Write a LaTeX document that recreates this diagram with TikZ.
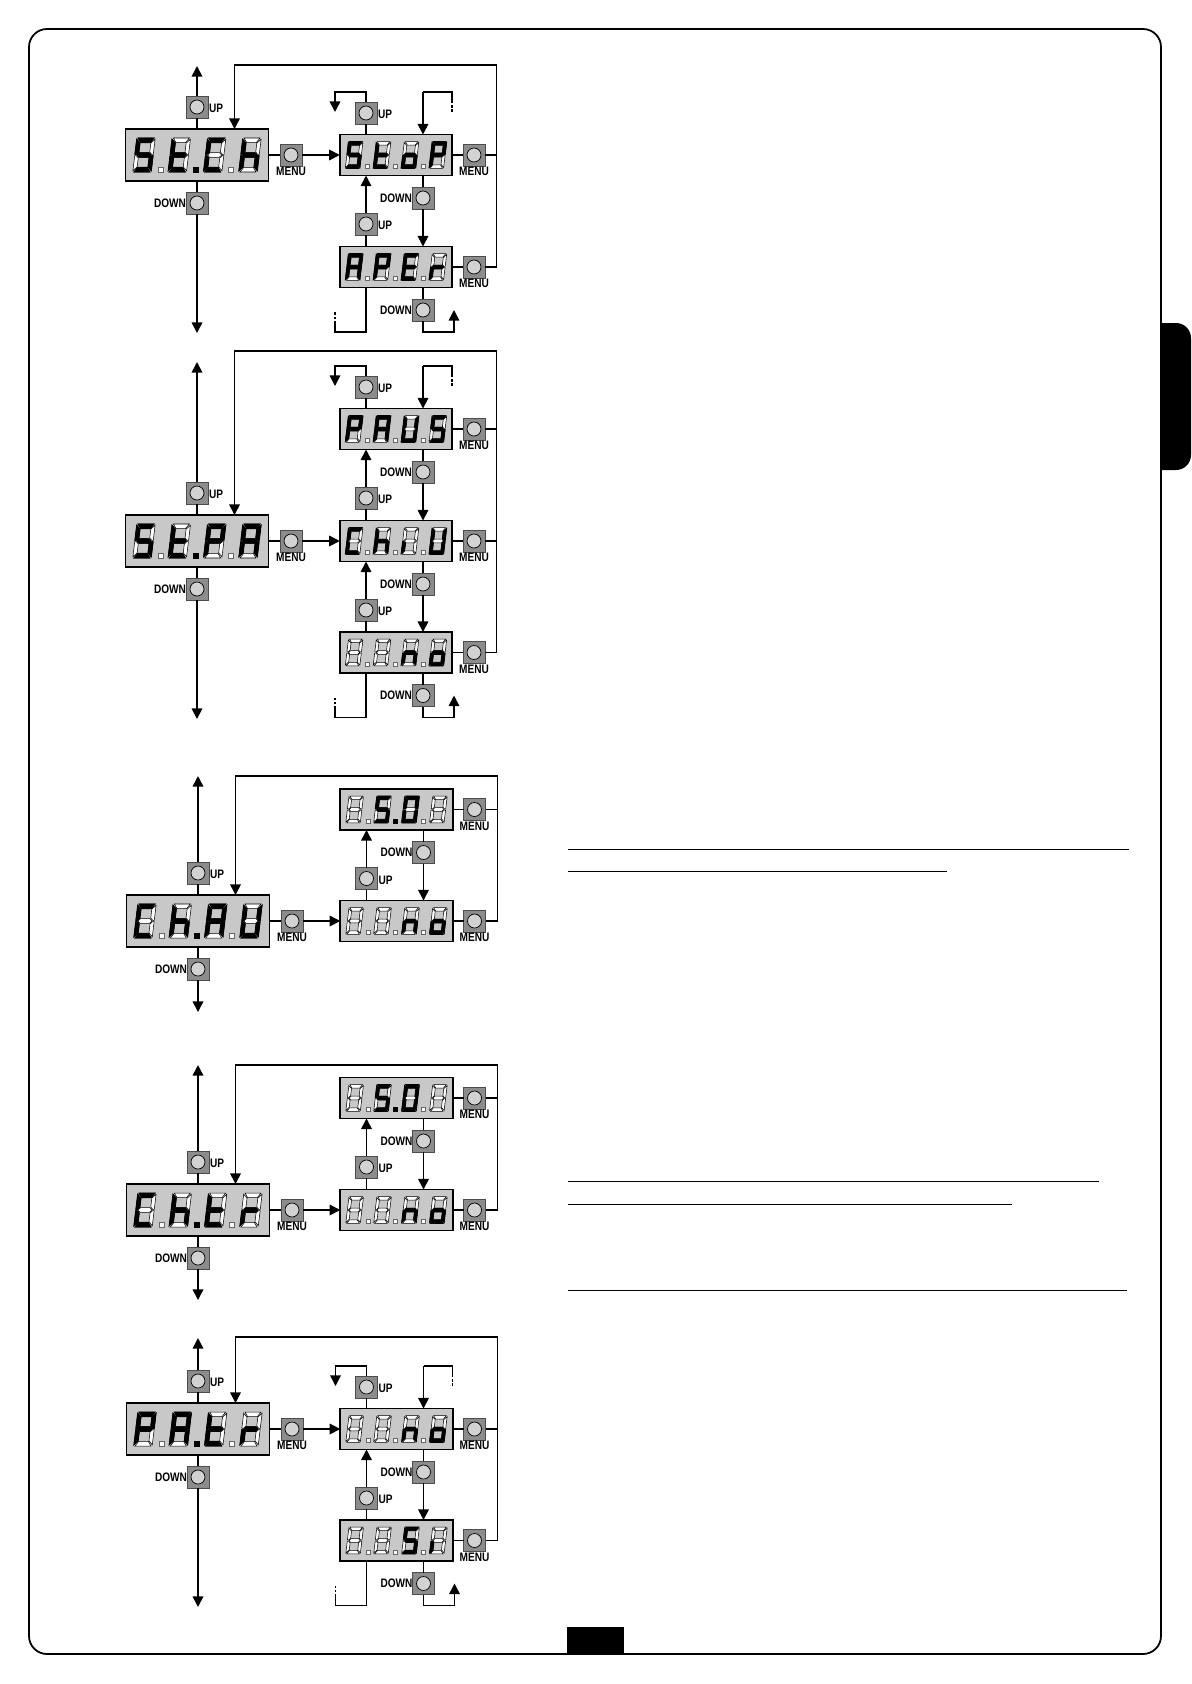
\documentclass[tikz,border=0pt]{standalone}
\usepackage{fontspec}
\usepackage{xcolor}
\usetikzlibrary{arrows.meta, calc}
\newfontfamily\btnfont[FakeStretch=0.82]{Liberation Sans}
\definecolor{dispgray}{HTML}{C8C8C8}
\definecolor{btngray}{HTML}{8C8C8C}
\definecolor{capgray}{HTML}{D2D2D2}
\tikzset{
bigdisp/.style={shape=rectangle, draw, line width=1pt, fill=dispgray, inner sep=0pt, outer sep=0pt, minimum width=2.86cm, minimum height=1.04cm},
smalldisp/.style={bigdisp, minimum width=2.25cm, minimum height=0.82cm},
btn/.style={shape=rectangle, draw=black!70, line width=0.4pt, fill=btngray, inner sep=0pt, outer sep=0pt, minimum size=0.44cm},
btncap/.style={shape=circle, draw=black, line width=0.4pt, fill=capgray, inner sep=0pt, outer sep=0pt, minimum size=0.28cm},
btnlab/.style={inner sep=0pt, outer sep=0pt, font=\btnfont\bfseries\fontsize{7}{8}\selectfont},
uplab/.style={btnlab, xshift=0.02cm, yshift=-0.03cm},
dnlab/.style={btnlab},
menulab/.style={btnlab, yshift=-0.03cm},
conn/.style={line width=0.9pt},
flow/.style={conn, -{Triangle[length=6pt,width=6pt]}},
stubdash/.style={line width=1pt, dash pattern=on 1.4pt off 0.9pt},
ruleline/.style={line width=0.5pt},
segoff/.style={draw=black, line width=0.3pt, fill=white},
segon/.style={draw=black, line width=0.5pt, fill=black},
dotoff/.style={draw=black!60, line width=0.25pt, fill=white},
doton/.style={draw=black, line width=0.25pt, fill=black},
}
% seven segments of one digit
\newcommand{\sega}[1]{\path[#1] (-8,-17) -- (8,-17) -- (4.8,-12.4) -- (-4.8,-12.4) -- cycle;}
\newcommand{\segd}[1]{\path[#1] (-8,17) -- (8,17) -- (4.8,12.4) -- (-4.8,12.4) -- cycle;}
\newcommand{\segg}[1]{\path[#1] (-7,0) -- (-4.8,-2.3) -- (4.8,-2.3) -- (7,0) -- (4.8,2.3) -- (-4.8,2.3) -- cycle;}
\newcommand{\segf}[1]{\path[#1] (-9.2,-15.8) -- (-5.4,-11.8) -- (-5.4,-3) -- (-7.6,-0.7) -- (-9.2,-0.7) -- cycle;}
\newcommand{\segb}[1]{\path[#1] (9.2,-15.8) -- (5.4,-11.8) -- (5.4,-3) -- (7.6,-0.7) -- (9.2,-0.7) -- cycle;}
\newcommand{\sege}[1]{\path[#1] (-9.2,15.8) -- (-5.4,11.8) -- (-5.4,3) -- (-7.6,0.7) -- (-9.2,0.7) -- cycle;}
\newcommand{\segc}[1]{\path[#1] (9.2,15.8) -- (5.4,11.8) -- (5.4,3) -- (7.6,0.7) -- (9.2,0.7) -- cycle;}
\newcommand{\segx}[1]{}
% letters
\newcommand{\ledS}{a,f,g,c,d}
\newcommand{\ledT}{f,e,g,d}
\newcommand{\ledC}{a,f,e,d}
\newcommand{\ledH}{f,e,g,c}
\newcommand{\ledO}{g,c,d,e}
\newcommand{\ledP}{a,b,f,g,e}
\newcommand{\ledA}{a,b,c,e,f,g}
\newcommand{\ledE}{a,f,g,e,d}
\newcommand{\ledR}{e,g}
\newcommand{\ledU}{b,c,d,e,f}
\newcommand{\ledN}{e,g,c}
\newcommand{\ledI}{e}
\newcommand{\ledZ}{a,b,c,d,e,f}
\newcommand{\ledV}{x}
\newcommand{\leddigit}[2]{%
	\begin{scope}[xshift=#1*0.02cm, xslant=0.12]
		\foreach \s in {a,b,c,d,e,f,g} {\csname seg\s\endcsname{segoff}}
		\foreach \s in #2 {\csname seg\s\endcsname{segon}}
	\end{scope}}
% display node name, scale, four letters, style of the middle point
\newcommand{\ledrow}[7]{%
	\begin{scope}[shift={(#1.center)}, scale=#2]
		\leddigit{-53}{#3}
		\leddigit{-17.7}{#4}
		\leddigit{17.7}{#5}
		\leddigit{53}{#6}
		\path[dotoff] (-38.5,12) rectangle (-33.5,17);
		\path[#7] (-4,12) rectangle (1,17);
		\path[dotoff] (31.5,12) rectangle (36.5,17);
	\end{scope}}
% button with its cap
\newcommand{\button}[4]{%
	\node[btn, label={#4}] (#1) at (#2,#3) {};
	\node[btncap] (#1cap) at (#1) {};}
% left display: name, x, y, upper tip, lower tip
\newcommand{\mainblock}[5]{%
	\node[bigdisp] (#1) at (#2,#3) {};
	\button{#1up}{#2}{#3-48}{[uplab]right:UP}
	\button{#1dn}{#2}{#3+48}{[dnlab]left:DOWN}
	\button{#1m}{#2+94}{#3}{[menulab]below:MENU}
	\coordinate (#1tup) at (#2,#4);
	\coordinate (#1tdn) at (#2,#5);
	\draw[conn] (#1) -- (#1up);
	\draw[flow] (#1up) -- (#1tup);
	\draw[conn] (#1) -- (#1dn);
	\draw[flow] (#1dn) -- (#1tdn);
	\draw[conn] (#1) -- (#1m);}
% right display: name, x, y
\newcommand{\setrow}[3]{%
	\node[smalldisp] (#1) at (#2,#3) {};
	\button{#1m}{#2+78}{#3}{[menulab]below:MENU}
	\draw[conn] (#1) -- (#1m);}
% passage between two displays: upper, lower, x, y of upper
\newcommand{\rowlink}[4]{%
	\button{#1dn}{#3+27}{#4+43}{[dnlab]left:DOWN}
	\button{#2up}{#3-30}{#4+69}{[uplab]right:UP}
	\draw[conn] (#1dn |- #1.south) -- (#1dn);
	\draw[flow] (#1dn) -- (#1dn |- #2.north);
	\draw[conn] (#2up |- #2.north) -- (#2up);
	\draw[flow] (#2up) -- (#2up |- #1.south);}
% open ends above a display
\newcommand{\topstubs}[3]{%
	\button{#1up}{#2-30}{#3-42}{[uplab]right:UP}
	\coordinate (#1ua) at (#2-30,#3-63);
	\coordinate (#1ub) at (#2-61,#3-63);
	\coordinate (#1uc) at (#2-61,#3-43);
	\coordinate (#1ra) at (#2+27,#3-63);
	\coordinate (#1rb) at (#2+56,#3-63);
	\coordinate (#1rc) at (#2+56,#3-54);
	\coordinate (#1rd) at (#2+56,#3-43);
	\draw[conn] (#1up |- #1.north) -- (#1up);
	\draw[flow] (#1up) -- (#1ua) -- (#1ub) -- (#1uc);
	\draw[conn] (#1rc) -- (#1rb) -- (#1ra);
	\draw[flow] (#1ra) -- (#1ra |- #1.north);
	\draw[stubdash] (#1rc) -- (#1rd);}
% open ends below a display
\newcommand{\botstubs}[3]{%
	\button{#1dn}{#2+27}{#3+43}{[dnlab]left:DOWN}
	\coordinate (#1da) at (#2+27,#3+65);
	\coordinate (#1db) at (#2+58,#3+65);
	\coordinate (#1dc) at (#2+58,#3+43);
	\coordinate (#1la) at (#2-30,#3+65);
	\coordinate (#1lb) at (#2-61,#3+65);
	\coordinate (#1lc) at (#2-61,#3+56);
	\coordinate (#1ld) at (#2-61,#3+45);
	\draw[conn] (#1dn |- #1.south) -- (#1dn);
	\draw[flow] (#1dn) -- (#1da) -- (#1db) -- (#1dc);
	\draw[conn] (#1la |- #1.south) -- (#1la) -- (#1lb) -- (#1lc);
	\draw[stubdash] (#1lc) -- (#1ld);}
% way back to the left display: name, x, y of line, last row
\newcommand{\closeloop}[4]{%
	\coordinate (#1tr) at (#2+299.5,#3);
	\coordinate (#1tl) at (#2+37.5,#3);
	\draw[flow] (#4m) -| (#1tr) -- (#1tl) -- (#1tl |- #1.north);}

\begin{document}
\begin{tikzpicture}[x=0.02cm, y=-0.02cm]
	\useasboundingbox (0,0) rectangle (1191,1684);

	\draw[line width=1pt, rounded corners=0.36cm] (29,29) rectangle (1161,1654);
	\fill (1161,323) [rounded corners=0.3cm] -- (1191,323) -- (1191,470) [sharp corners] -- (1161,470) -- cycle;
	\fill (567,1627) rectangle (624,1654);

	\draw[ruleline] (568,849.5) -- (1129,849.5);
	\draw[ruleline] (568,871) -- (947,871);
	\draw[ruleline] (568,1181) -- (1099,1181);
	\draw[ruleline] (568,1204) -- (1012,1204);
	\draw[ruleline] (568,1290) -- (1127,1290);

	% first group
	\mainblock{stch}{197}{155}{66}{333}
	\setrow{stop}{396}{155}
	\setrow{aper}{396}{267}
	\rowlink{stop}{aper}{396}{155}
	\topstubs{stop}{396}{155}
	\botstubs{aper}{396}{267}
	\draw[flow] (stchm) -- (stop);
	\closeloop{stch}{197}{65}{aper}
	\draw[conn] (stopm) -- (stopm -| stchtr);
	\ledrow{stch}{1}{\ledS}{\ledT}{\ledC}{\ledH}{doton}
	\ledrow{stop}{0.79}{\ledS}{\ledT}{\ledO}{\ledP}{dotoff}
	\ledrow{aper}{0.79}{\ledA}{\ledP}{\ledE}{\ledR}{dotoff}

	% second group
	\mainblock{stpa}{197}{541}{362}{719}
	\setrow{paus}{396}{429}
	\setrow{chiu}{396}{541}
	\setrow{pano}{396}{652.5}
	\rowlink{paus}{chiu}{396}{429}
	\rowlink{chiu}{pano}{396}{541}
	\topstubs{paus}{396}{429}
	\botstubs{pano}{396}{652.5}
	\draw[flow] (stpam) -- (chiu);
	\closeloop{stpa}{197}{351}{pano}
	\draw[conn] (pausm) -- (pausm -| stpatr);
	\draw[conn] (chium) -- (chium -| stpatr);
	\ledrow{stpa}{1}{\ledS}{\ledT}{\ledP}{\ledA}{doton}
	\ledrow{paus}{0.79}{\ledP}{\ledA}{\ledU}{\ledS}{dotoff}
	\ledrow{chiu}{0.79}{\ledC}{\ledH}{\ledI}{\ledU}{dotoff}
	\ledrow{pano}{0.79}{\ledV}{\ledV}{\ledN}{\ledO}{dotoff}

	% third group
	\mainblock{chau}{198}{921}{776}{1012}
	\setrow{auts}{396.5}{809.5}
	\setrow{auno}{396.5}{921}
	\rowlink{auts}{auno}{396.5}{809.5}
	\draw[flow] (chaum) -- (auno);
	\closeloop{chau}{198}{776}{auno}
	\draw[conn] (autsm) -- (autsm -| chautr);
	\ledrow{chau}{1}{\ledC}{\ledH}{\ledA}{\ledU}{doton}
	\ledrow{auts}{0.79}{\ledV}{\ledS}{\ledZ}{\ledV}{doton}
	\ledrow{auno}{0.79}{\ledV}{\ledV}{\ledN}{\ledO}{dotoff}

	% fourth group
	\mainblock{chtr}{198}{1210}{1065}{1300}
	\setrow{trts}{396.5}{1098}
	\setrow{trno}{396.5}{1210}
	\rowlink{trts}{trno}{396.5}{1098}
	\draw[flow] (chtrm) -- (trno);
	\closeloop{chtr}{198}{1065}{trno}
	\draw[conn] (trtsm) -- (trtsm -| chtrtr);
	\ledrow{chtr}{1}{\ledC}{\ledH}{\ledT}{\ledR}{doton}
	\ledrow{trts}{0.79}{\ledV}{\ledS}{\ledZ}{\ledV}{doton}
	\ledrow{trno}{0.79}{\ledV}{\ledV}{\ledN}{\ledO}{dotoff}

	% fifth group
	\mainblock{patr}{198}{1429}{1338}{1607}
	\setrow{ptno}{396.5}{1429}
	\setrow{ptsi}{396.5}{1540.5}
	\rowlink{ptno}{ptsi}{396.5}{1429}
	\topstubs{ptno}{396.5}{1429}
	\botstubs{ptsi}{396.5}{1540.5}
	\draw[flow] (patrm) -- (ptno);
	\closeloop{patr}{198}{1337}{ptsi}
	\draw[conn] (ptnom) -- (ptnom -| patrtr);
	\ledrow{patr}{1}{\ledP}{\ledA}{\ledT}{\ledR}{doton}
	\ledrow{ptno}{0.79}{\ledV}{\ledV}{\ledN}{\ledO}{dotoff}
	\ledrow{ptsi}{0.79}{\ledV}{\ledV}{\ledS}{\ledI}{dotoff}
\end{tikzpicture}
\end{document}
